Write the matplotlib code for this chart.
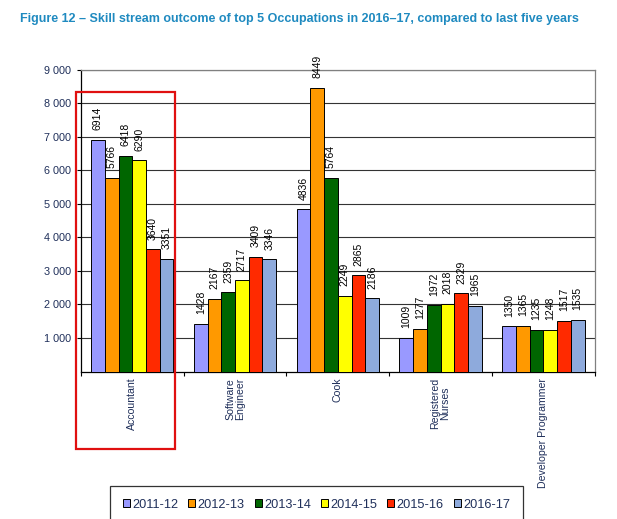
import numpy as np
import matplotlib.pyplot as plt
from matplotlib.patches import Rectangle, Patch

plt.rcParams['font.family'] = ['Liberation Sans', 'DejaVu Sans']

# 数据
occupations = ['Accountant', 'Software\nEngineer', 'Cook', 'Registered\nNurses', 'Developer Programmer']
years = ['2011-12', '2012-13', '2013-14', '2014-15', '2015-16', '2016-17']
v2011 = [6914, 1428, 4836, 1009, 1350]
v2012 = [5766, 2167, 8449, 1277, 1365]
v2013 = [6418, 2359, 5764, 1972, 1235]
v2014 = [6290, 2717, 2249, 2018, 1248]
v2015 = [3640, 3409, 2865, 2329, 1517]
v2016 = [3351, 3346, 2186, 1965, 1535]
series = [v2011, v2012, v2013, v2014, v2015, v2016]
colors = ['#9999FF', '#FF9900', '#006600', '#FFFF00', '#FF2A00', '#8EAADC']

navy = '#1F2F5A'

fig = plt.figure(figsize=(6.17, 5.19), dpi=100, facecolor='white')
ax = fig.add_axes([0.131, 0.284, 0.833, 0.582])

x = np.arange(len(occupations))
bw = 0.8 / 6
for i, (vals, col) in enumerate(zip(series, colors)):
    pos = x - 0.4 + bw * (i + 0.5)
    ax.bar(pos, vals, width=bw, color=col, edgecolor='black', linewidth=0.7, zorder=3)
    for p, v in zip(pos, vals):
        ax.annotate(str(v), (p, v), xytext=(0, 7), textcoords='offset points',
                    rotation=90, ha='center', va='bottom', fontsize=7.5, zorder=4)

ax.set_xlim(-0.5, len(occupations) - 0.5)
ax.set_ylim(0, 9000)
yt = np.arange(1000, 9001, 1000)
ax.set_yticks(yt)
ax.set_yticklabels([f'{t // 1000} 000' for t in yt], fontsize=7.8, color=navy)
ax.yaxis.grid(True, color='#333333', linewidth=0.8, zorder=0)
ax.tick_params(axis='y', length=3, width=0.8, pad=4)

# x 轴：刻度在类别边界，标签在中间
ax.set_xticks(np.arange(-0.5, len(occupations), 1.0))
ax.set_xticklabels([])
ax.tick_params(axis='x', length=3, width=0.8, direction='out')
for xi, name in zip(x, occupations):
    ax.text(xi, -180, name, rotation=90, ha='center', va='top', fontsize=7.6,
            color=navy, multialignment='center', linespacing=1.0)

for s in ['left', 'bottom']:
    ax.spines[s].set_color('black')
    ax.spines[s].set_linewidth(0.9)
for s in ['top', 'right']:
    ax.spines[s].set_color('#808080')
    ax.spines[s].set_linewidth(0.9)

# 标题
fig.text(20 / 617, 1 - 19 / 519, 'Figure 12 \u2013 Skill stream outcome of top 5 Occupations in 2016\u201317, compared to last five years',
         ha='left', va='center', fontsize=9, fontweight='bold', color='#1F8AC0')

# 红框
fig.patches.append(Rectangle((76 / 617, 1 - 449 / 519), 99 / 617, 357 / 519,
                             transform=fig.transFigure, fill=False,
                             edgecolor='#E01010', linewidth=1.6))

# 图例
handles = [Patch(facecolor=c, edgecolor='black', linewidth=0.7) for c in colors]
leg = fig.legend(handles, years, loc='upper left',
                 bbox_to_anchor=(110 / 617, 0, 413 / 617, 1 - 486 / 519),
                 mode='expand', ncol=6, fontsize=9.2, frameon=True,
                 handlelength=0.55, handleheight=0.55, handletextpad=0.2,
                 borderpad=1.0, borderaxespad=0, columnspacing=0.6, labelcolor=navy)
leg.get_frame().set_edgecolor('black')
leg.get_frame().set_linewidth(0.9)
leg.get_frame().set_boxstyle('square', pad=0)

fig.savefig('out.png', dpi=100)
